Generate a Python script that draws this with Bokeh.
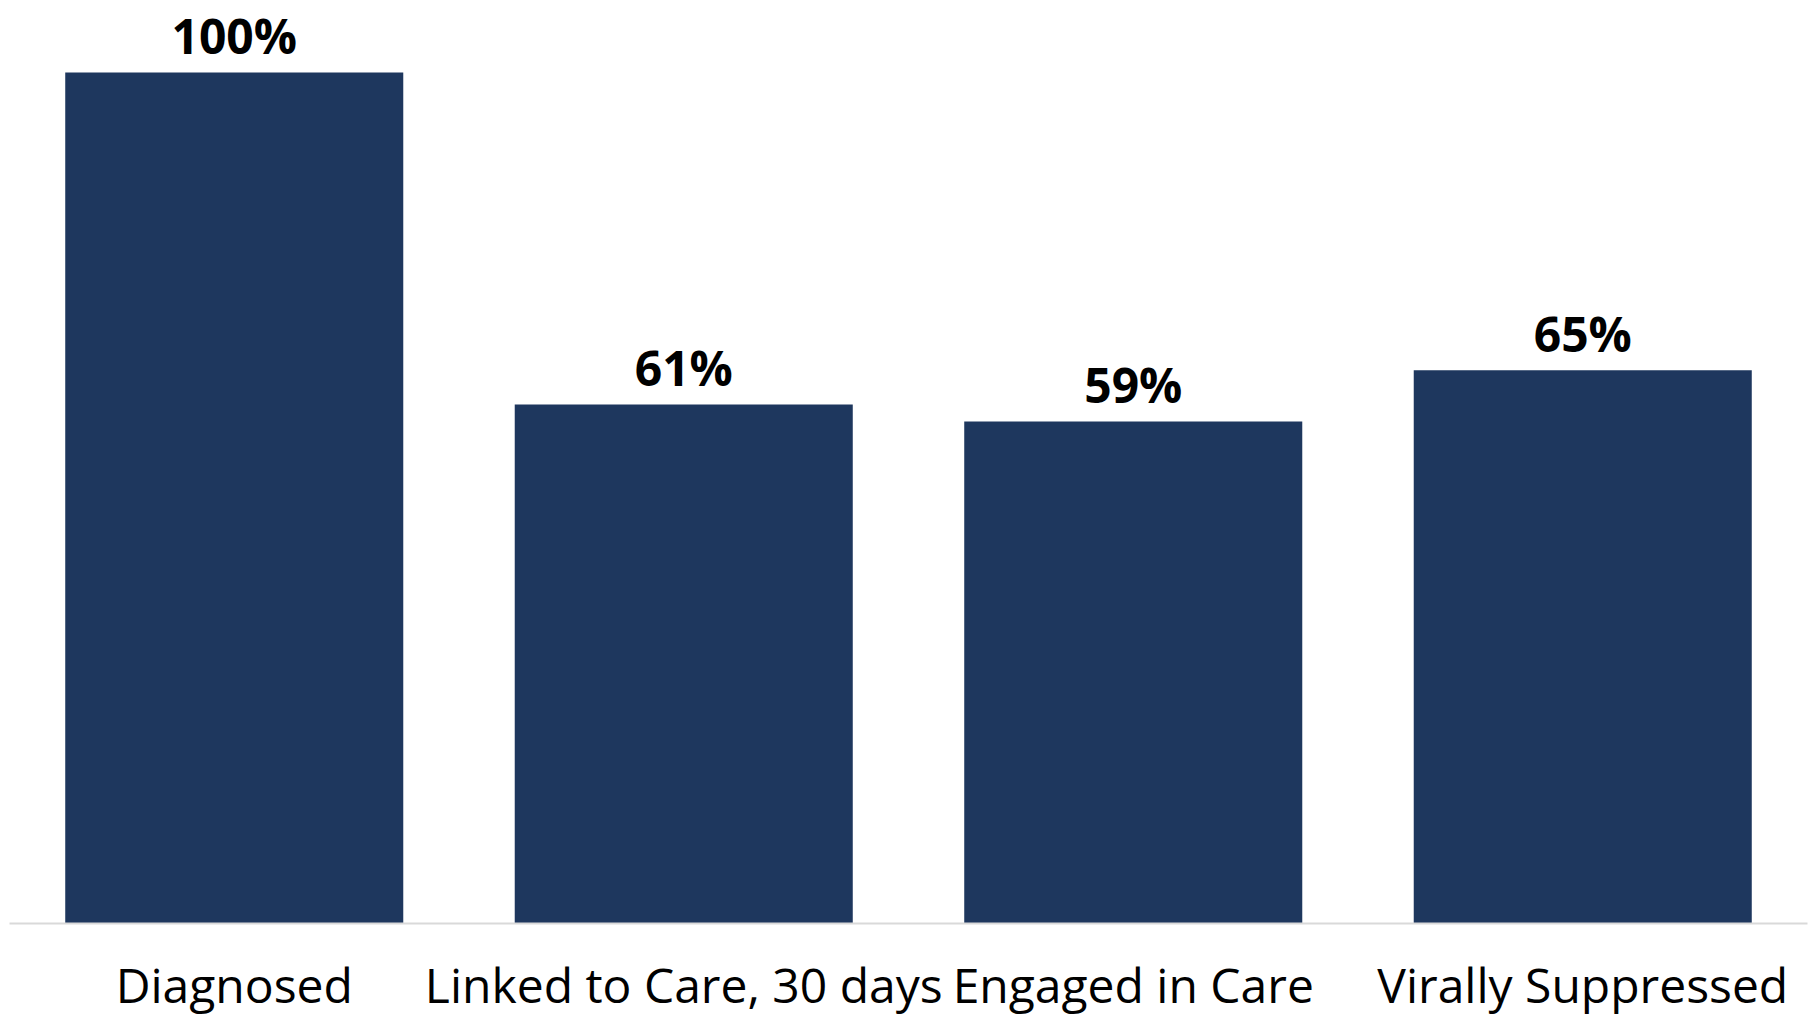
from bokeh.plotting import figure
from bokeh.models import ColumnDataSource, FactorRange, Range1d
from bokeh.core.properties import value
from bokeh.embed import file_html
from bokeh.resources import INLINE

categories = ["Diagnosed", "Linked to Care, 30 days", "Engaged in Care", "Virally Suppressed"]
percents = [100, 61, 59, 65]
labels = ["100%", "61%", "59%", "65%"]

src = ColumnDataSource(dict(cat=categories, val=percents, lab=labels))

p = figure(width=1809, height=1020, x_range=FactorRange(*categories, range_padding=0),
           y_range=Range1d(0, 108.46), output_backend="svg", toolbar_location=None,
           min_border_left=9, min_border_right=2, min_border_top=0, min_border_bottom=97)
p.outline_line_color = None
p.grid.visible = False
p.background_fill_color = "white"
p.border_fill_color = "white"

p.vbar(x="cat", top="val", width=0.752, source=src, fill_color="#1e375e", line_color=None)
p.text(x="cat", y="val", text="lab", source=src, y_offset=-37,
       text_font=value("Open Sans"), text_font_style="bold", text_font_size="48px",
       text_align="center", text_baseline="alphabetic", text_color="black")

p.yaxis.visible = False
ax = p.xaxis[0]
ax.axis_line_color = "#d9d9d9"
ax.axis_line_width = 2
ax.major_tick_line_color = None
ax.minor_tick_line_color = None
ax.major_tick_out = 0
ax.major_tick_in = 0
ax.major_label_text_font = "Open Sans"
ax.major_label_text_font_size = "48px"
ax.major_label_text_color = "black"
ax.major_label_standoff = 28

open("out.html", "w").write(file_html(p, INLINE))
